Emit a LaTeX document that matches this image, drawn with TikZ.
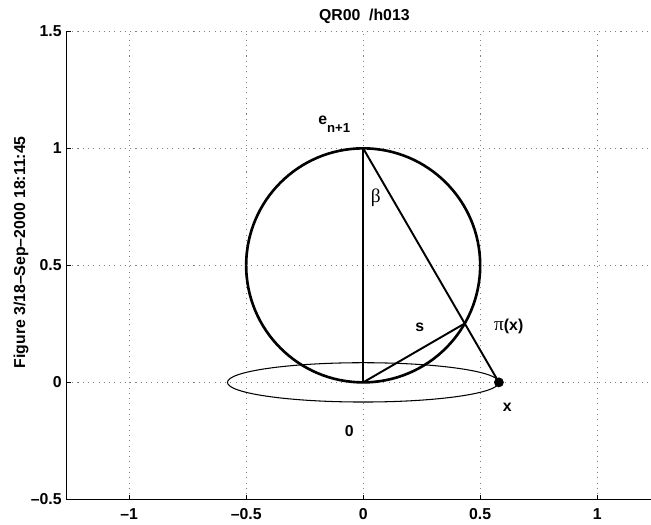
\documentclass[tikz,border=0pt]{standalone}
\usepackage{fontspec}
\setmainfont{Liberation Sans}
\newfontfamily\symbfont{Liberation Serif}
\begin{document}
\begin{tikzpicture}[x=4.68cm, y=4.68cm,
    every node/.style={inner sep=0pt, font=\fontsize{9}{10}\selectfont\bfseries},
    grid/.style={gray, line width=0.5pt, dash pattern=on 0.6pt off 2.4pt},
    axis/.style={black, line width=0.6pt},
    sphere/.style={line width=1.5pt},
    chord/.style={line width=1.1pt}]
  \useasboundingbox (-1.552,-0.6056) rectangle (1.230,1.634);
  % grid and axes
  \foreach \gx in {-1,-0.5,0,0.5,1}
    \draw[grid] (\gx,-0.5) -- (\gx,1.5);
  \foreach \gy in {0,0.5,1,1.5}
    \draw[grid] (-1.266,\gy) -- (1.230,\gy);
  \draw[axis] (-1.266,1.5) -- (-1.266,-0.5) -- (1.230,-0.5);
  \foreach \gx/\lab in {-1/--1, -0.5/--0.5, 0/0, 0.5/0.5, 1/1} {
    \draw[axis] (\gx,-0.5) -- (\gx,-0.482);
    \node[anchor=north] at (\gx,-0.537) {\lab};
  }
  \foreach \gy/\lab in {-0.5/--0.5, 0/0, 0.5/0.5, 1/1, 1.5/1.5} {
    \draw[axis] (-1.266,\gy) -- (-1.248,\gy);
    \node[anchor=east] at (-1.287,\gy) {\lab};
  }
  \node (title) at (0.005,1.566) {QR00\ \ /h013};
  \node[rotate=90] (stamp) at (-1.462,0.556) {Figure 3/18--Sep--2000 18:11:45};
  % sphere, plane and projection
  \coordinate (o) at (0,0);
  \coordinate (e) at (0,1);
  \coordinate (px) at (0.434,0.2517);
  \coordinate (x) at (0.58,0);
  \draw[line width=0.6pt] (o) ellipse [x radius=0.58, y radius=0.084];
  \draw[sphere] (0,0.5) circle [radius=0.5];
  \draw[chord] (e) -- (o);
  \draw[chord] (e) -- (x);
  \draw[chord] (o) -- (px);
  \fill (x) circle [radius=0.021];
  % labels
  \node[anchor=base west] (le) at (-0.193,1.101) {e\raisebox{-4.5pt}{\fontsize{7.5}{8}\selectfont n+1}};
  \node (lbeta) at (0.054,0.79) {\mdseries\symbfont\fontsize{11}{12}\selectfont β};
  \node (ls) at (0.242,0.236) {s};
  \node (lpx) at (0.622,0.238) {{\mdseries\symbfont\fontsize{11}{12}\selectfont π}(x)};
  \node (lx) at (0.616,-0.108) {x};
  \node (l0) at (-0.059,-0.206) {0};
\end{tikzpicture}
\end{document}
